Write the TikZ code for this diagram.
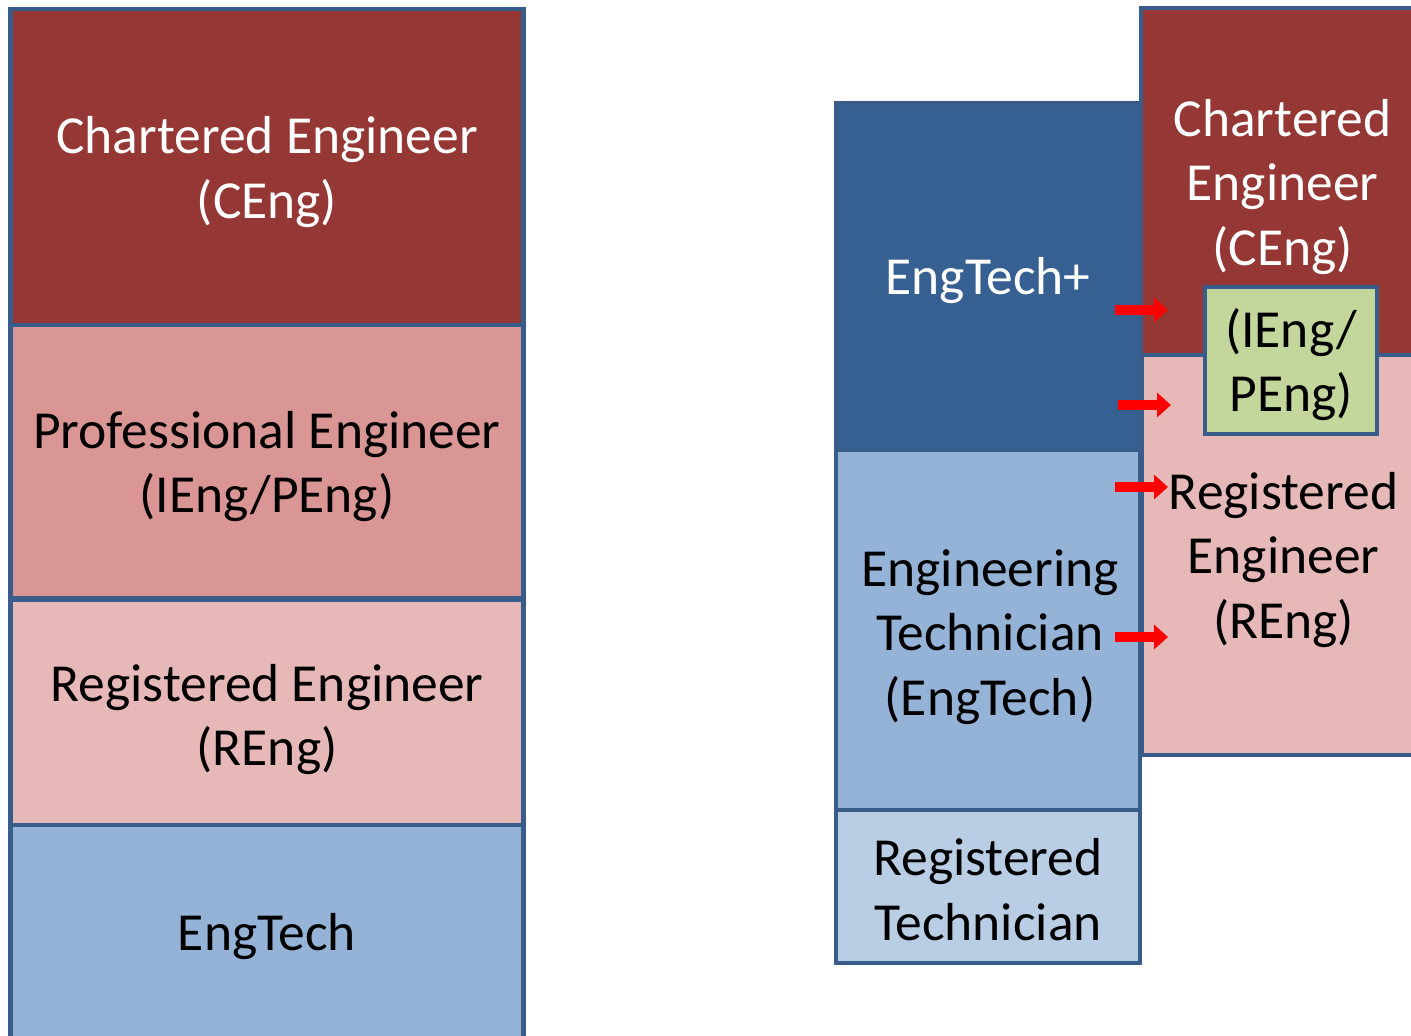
\documentclass[tikz,border=0pt]{standalone}
\usepackage{fontspec}
\setmainfont{Carlito}
\usetikzlibrary{arrows.meta}
\definecolor{bord}{HTML}{385D8A}
\definecolor{darkred}{HTML}{953735}
\definecolor{midpink}{HTML}{D99694}
\definecolor{lightpink}{HTML}{E6B9B8}
\definecolor{midblue}{HTML}{95B3D7}
\definecolor{darkblue}{HTML}{376092}
\definecolor{lightblue}{HTML}{B9CDE5}
\definecolor{lightgreen}{HTML}{C3D69B}
\begin{document}
\begin{tikzpicture}[x=1pt,y=-1pt,
  blk/.style={draw=bord, line width=4.5pt, rectangle, inner sep=0pt, outer sep=0pt,
    anchor=north west},
  txt/.style={inner sep=0pt, align=center, font=\fontsize{53.5}{64.5}\selectfont},
  arr/.style={draw=red, line width=10pt, -{Triangle[length=14pt,width=24pt]}}]
\useasboundingbox (0,0) rectangle (1411,1036);
\clip (0,0) rectangle (1411,1036);
% left column
\node[blk, fill=darkred, minimum width=513pt, minimum height=316pt] (lc) at (10.5,9) {};
\node[blk, fill=midpink, minimum width=513pt, minimum height=273pt] (lp) at (10.5,325) {};
\node[blk, fill=lightpink, minimum width=513pt, minimum height=225pt] (lr) at (10.5,600) {};
\node[blk, fill=midblue, minimum width=513pt, minimum height=217pt] (le) at (10.5,825) {};
\node[txt, text=white] (lct) at ([yshift=-5pt]lc.center) {Chartered Engineer\\(CEng)};
\node[txt] (lpt) at ([yshift=-5pt]lp.center) {Professional Engineer\\(IEng/PEng)};
\node[txt] (lrt) at ([yshift=-7pt]lr.center) {Registered Engineer\\(REng)};
\node[txt] (let) at ([yshift=-3pt]le.center) {EngTech};
% right column
\node[blk, fill=darkred, minimum width=283pt, minimum height=352pt] (rc) at (1141,8) {};
\node[blk, fill=lightpink, minimum width=283pt, minimum height=400pt] (rr) at (1142,355) {};
\node[blk, fill=darkblue, minimum width=304pt, minimum height=347pt] (ep) at (836,103) {};
\node[blk, fill=midblue, minimum width=304pt, minimum height=360pt] (et) at (836,450) {};
\node[blk, fill=lightblue, minimum width=304pt, minimum height=153pt] (rt) at (836,810) {};
\node[blk, fill=lightgreen, minimum width=172pt, minimum height=147pt] (g) at (1205,287) {};
\node[txt, text=white] (rct) at ([yshift=-3pt]rc.center) {Chartered\\Engineer\\(CEng)};
\node[txt] (rrt) at ([yshift=-5pt]rr.center) {Registered\\Engineer\\(REng)};
\node[txt, text=white] (ept) at ([yshift=-4pt]ep.center) {EngTech+};
\node[txt] (ett) at ([yshift=-7pt,xshift=2pt]et.center) {Engineering\\Technician\\(EngTech)};
\node[txt] (rtt) at ([yshift=-3pt]rt.center) {Registered\\Technician};
\node[txt] (gt) at ([yshift=-4pt]g.center) {(IEng/\\PEng)};
% arrows
\coordinate (a1s) at (1115,310); \coordinate (a1e) at (1168,310);
\coordinate (a2s) at (1118,405); \coordinate (a2e) at (1171,405);
\coordinate (a3s) at (1115,487); \coordinate (a3e) at (1168,487);
\coordinate (a4s) at (1115,637); \coordinate (a4e) at (1168,637);
\draw[arr] (a1s) -- (a1e);
\draw[arr] (a2s) -- (a2e);
\draw[arr] (a3s) -- (a3e);
\draw[arr] (a4s) -- (a4e);
\end{tikzpicture}
\end{document}
